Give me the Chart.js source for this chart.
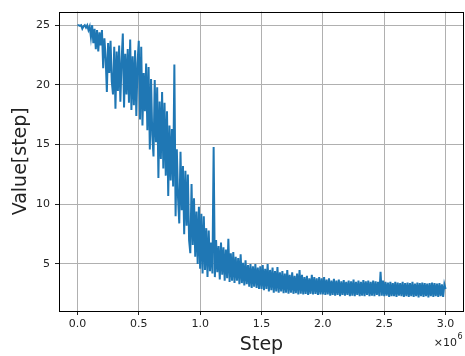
<!DOCTYPE html>
<html>
<head>
<meta charset="utf-8">
<script src="https://cdn.jsdelivr.net/npm/chart.js@4/dist/chart.umd.min.js"></script>
<style>
	body { margin: 0; background: #fff; }
	#wrap { width: 465px; height: 356px; position: relative; }
</style>
</head>
<body>
<div id="wrap"><canvas id="value-chart"></canvas></div>
<script>
// samples every 10 000 steps
const stepSize = 10000
const xTicks = [0, 500000, 1000000, 1500000, 2000000, 2500000, 3000000]
const yTicks = [5, 10, 15, 20, 25]

const values0to05 = [
	25.0, 25.0, 24.95, 25.0, 24.7, 24.9, 25.0, 24.8, 25.0, 24.6,
	24.9, 24.0, 25.0, 23.5, 24.7, 23.0, 24.6, 22.8, 24.4, 23.3,
	24.6, 21.4, 23.9, 22.3, 19.4, 23.5, 21.0, 23.7, 20.3, 19.2,
	23.2, 18.0, 22.8, 19.5, 23.3, 18.6, 22.0, 24.3, 18.1, 22.6,
	19.2, 23.0, 18.5, 23.8, 17.9, 22.4, 18.3, 22.9, 17.4, 21.8,
]
const values05to10 = [
	23.7, 17.1, 23.2, 16.6, 21.0, 17.8, 21.8, 16.2, 21.5, 14.6,
	20.5, 15.8, 14.0, 20.4, 15.2, 19.8, 12.2, 18.6, 13.8, 19.4,
	13.0, 18.5, 12.4, 17.8, 10.7, 16.6, 12.0, 16.3, 11.5, 21.7,
	9.0, 14.6, 10.5, 8.4, 14.4, 9.5, 13.2, 7.5, 12.8, 8.2,
	12.5, 7.0, 5.9, 11.7, 6.6, 10.5, 5.6, 9.4, 5.0, 9.8,
]
const values10to15 = [
	4.6, 9.2, 4.2, 9.0, 4.5, 8.0, 3.9, 7.8, 4.4, 6.8,
	4.2, 14.8, 3.9, 7.0, 4.3, 6.5, 3.7, 6.8, 4.1, 6.4,
	3.6, 6.2, 3.8, 7.1, 3.5, 5.9, 3.6, 6.0, 3.4, 5.6,
	3.6, 5.5, 3.3, 5.8, 3.4, 5.1, 3.2, 5.3, 3.3, 4.9,
	3.1, 5.0, 3.0, 4.8, 3.1, 5.0, 3.0, 4.7, 2.9, 4.8,
]
const values15to20 = [
	2.9, 4.9, 2.8, 4.6, 2.9, 5.0, 2.7, 4.5, 2.8, 4.7,
	2.6, 4.4, 2.7, 4.75, 2.6, 4.3, 2.7, 4.4, 2.55, 4.2,
	2.6, 4.5, 2.5, 4.1, 2.6, 4.3, 2.5, 4.0, 2.55, 4.2,
	2.45, 4.5, 2.5, 4.1, 2.45, 3.9, 2.5, 4.0, 2.4, 3.8,
	2.5, 4.1, 2.45, 3.9, 2.5, 3.8, 2.4, 3.9, 2.45, 3.8,
]
const values20to25 = [
	2.45, 3.9, 2.4, 3.7, 2.45, 3.8, 2.35, 3.6, 2.4, 3.75,
	2.35, 3.6, 2.4, 3.7, 2.3, 3.55, 2.4, 3.65, 2.35, 3.5,
	2.4, 3.6, 2.3, 3.55, 2.35, 3.7, 2.3, 3.5, 2.4, 3.6,
	2.3, 3.5, 2.35, 3.65, 2.3, 3.55, 2.4, 3.6, 2.3, 3.5,
	2.35, 3.6, 2.3, 3.55, 2.4, 3.5, 2.3, 4.35, 2.35, 3.6,
]
const values25to30 = [
	2.3, 3.5, 2.35, 3.45, 2.25, 3.5, 2.3, 3.4, 2.3, 3.5,
	2.25, 3.45, 2.35, 3.4, 2.3, 3.5, 2.25, 3.4, 2.3, 3.45,
	2.25, 3.4, 2.3, 3.5, 2.25, 3.35, 2.3, 3.45, 2.2, 3.4,
	2.3, 3.45, 2.25, 3.4, 2.3, 3.35, 2.2, 3.4, 2.3, 3.45,
	2.25, 3.4, 2.3, 3.35, 2.25, 3.4, 2.3, 3.3, 2.25, 3.3,
	2.9,
]

const allValues = [
	...values0to05, ...values05to10, ...values10to15,
	...values15to20, ...values20to25, ...values25to30,
]
const points = allValues.map((v, i) => ({ x: i * stepSize, y: v }))

Chart.defaults.font.family = "'DejaVu Sans', sans-serif"
Chart.defaults.color = '#222'

// full box around the plot + the matplotlib style x10^6 offset text
const frame = {
	id: 'frame',
	afterDraw(chart) {
		const { ctx, chartArea: a } = chart
		ctx.save()
		ctx.strokeStyle = '#000'
		ctx.lineWidth = 1
		ctx.strokeRect(Math.round(a.left) + 0.5, Math.round(a.top) + 0.5,
			Math.round(a.right - a.left) - 1, Math.round(a.bottom - a.top))
		ctx.fillStyle = '#222'
		ctx.textBaseline = 'alphabetic'
		ctx.textAlign = 'right'
		ctx.font = "11px 'DejaVu Sans'"
		ctx.fillText('×10', 457, 346)
		ctx.textAlign = 'left'
		ctx.font = "8px 'DejaVu Sans'"
		ctx.fillText('6', 457.5, 339)
		ctx.restore()
	},
}

new Chart(document.getElementById('value-chart'), {
	type: 'line',
	data: {
		datasets: [
			{
				data: points,
				borderColor: '#1f77b4',
				borderWidth: 2,
				pointRadius: 0,
				tension: 0,
				fill: false,
			},
		],
	},
	options: {
		responsive: true,
		maintainAspectRatio: false,
		animation: false,
		layout: { padding: { top: 9, right: 1, left: 0, bottom: 0 } },
		plugins: {
			legend: { display: false },
			tooltip: { enabled: false },
		},
		scales: {
			x: {
				type: 'linear',
				min: -150000,
				max: 3150000,
				afterBuildTicks: axis => {
					axis.ticks = xTicks.map(v => ({ value: v }))
				},
				afterFit: scale => {
					scale.height = 45
				},
				ticks: {
					font: { size: 11 },
					padding: 3,
					maxRotation: 0,
					callback: v => (v / 1e6).toFixed(1),
				},
				grid: { color: '#b0b0b0', tickColor: '#222', tickLength: 4 },
				border: { display: false },
				title: {
					display: true,
					text: 'Step',
					font: { size: 19 },
					padding: { top: 0, bottom: 0 },
				},
			},
			y: {
				min: 1.06,
				max: 26.14,
				afterBuildTicks: axis => {
					axis.ticks = yTicks.map(v => ({ value: v }))
				},
				afterFit: scale => {
					scale.width = 59
				},
				ticks: {
					font: { size: 11 },
					padding: 5,
					callback: v => String(v),
				},
				grid: { color: '#b0b0b0', tickColor: '#222', tickLength: 4 },
				border: { display: false },
				title: {
					display: true,
					text: 'Value[step]',
					font: { size: 19 },
					padding: { top: 10, bottom: 0 },
				},
			},
		},
	},
	plugins: [frame],
})
</script>
</body>
</html>
